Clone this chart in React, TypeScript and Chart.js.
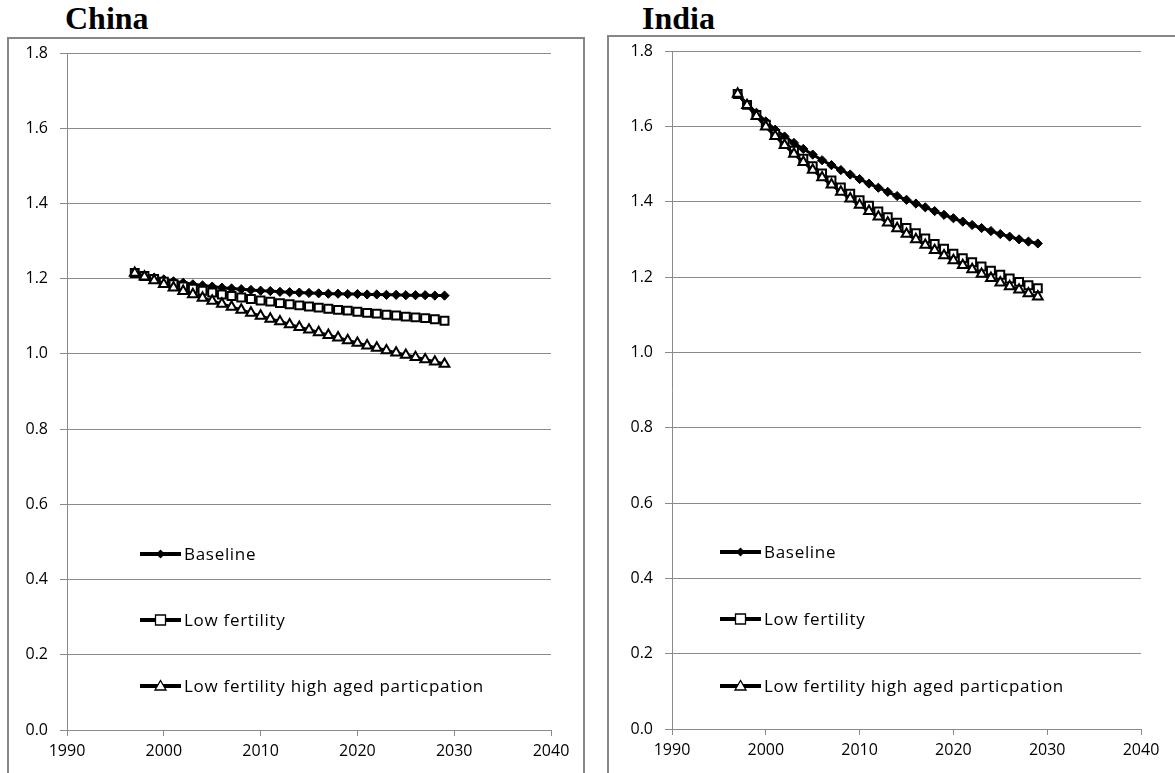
import React, { useEffect, useRef } from 'react';
import { Chart, registerables } from 'chart.js';

Chart.register(...registerables);

// ---------- data ----------
const years = [
  1997, 1998, 1999, 2000, 2001, 2002, 2003, 2004, 2005, 2006,
  2007, 2008, 2009, 2010, 2011, 2012, 2013, 2014, 2015, 2016,
  2017, 2018, 2019, 2020, 2021, 2022, 2023, 2024, 2025, 2026,
  2027, 2028, 2029,
];

const chinaBaseline = [
  1.215, 1.209, 1.203, 1.198, 1.193, 1.189, 1.185, 1.182, 1.179, 1.176,
  1.174, 1.172, 1.170, 1.168, 1.167, 1.165, 1.164, 1.163, 1.162, 1.161,
  1.160, 1.160, 1.159, 1.159, 1.158, 1.158, 1.157, 1.157, 1.156, 1.156,
  1.156, 1.155, 1.155,
];
const chinaLowFertility = [
  1.215, 1.207, 1.199, 1.192, 1.185, 1.179, 1.173, 1.168, 1.163, 1.158,
  1.154, 1.150, 1.146, 1.142, 1.139, 1.135, 1.132, 1.129, 1.126, 1.123,
  1.120, 1.117, 1.115, 1.112, 1.109, 1.107, 1.104, 1.102, 1.099, 1.097,
  1.095, 1.092, 1.088,
];
const chinaLowFertilityHighAged = [
  1.215, 1.205, 1.195, 1.185, 1.176, 1.167, 1.158, 1.149, 1.141, 1.133,
  1.125, 1.117, 1.109, 1.101, 1.093, 1.086, 1.078, 1.071, 1.064, 1.057,
  1.050, 1.043, 1.036, 1.029, 1.022, 1.016, 1.009, 1.003, 0.997, 0.991,
  0.985, 0.979, 0.973,
];

const indiaBaseline = [
  1.686, 1.660, 1.636, 1.613, 1.591, 1.573, 1.556, 1.540, 1.525, 1.510,
  1.497, 1.484, 1.472, 1.460, 1.448, 1.437, 1.426, 1.415, 1.405, 1.395,
  1.385, 1.375, 1.365, 1.356, 1.347, 1.338, 1.330, 1.322, 1.314, 1.307,
  1.300, 1.294, 1.289,
];
const indiaLowFertility = [
  1.686, 1.657, 1.630, 1.604, 1.580, 1.557, 1.535, 1.514, 1.494, 1.475,
  1.456, 1.438, 1.421, 1.404, 1.389, 1.374, 1.359, 1.344, 1.330, 1.316,
  1.302, 1.288, 1.275, 1.262, 1.250, 1.239, 1.228, 1.217, 1.206, 1.196,
  1.187, 1.178, 1.170,
];
const indiaLowFertilityHighAged = [
  1.686, 1.656, 1.627, 1.599, 1.574, 1.550, 1.527, 1.505, 1.484, 1.464,
  1.445, 1.426, 1.408, 1.391, 1.375, 1.360, 1.344, 1.329, 1.314, 1.300,
  1.285, 1.271, 1.257, 1.244, 1.231, 1.220, 1.208, 1.197, 1.185, 1.175,
  1.166, 1.156, 1.148,
];

const seriesLabels = ['Baseline', 'Low fertility', 'Low fertility high aged particpation'];
const xTickValues = [1990, 2000, 2010, 2020, 2030, 2040];
const yTickValues = [0, 0.2, 0.4, 0.6, 0.8, 1.0, 1.2, 1.4, 1.6, 1.8];
const panelTitles = ['China', 'India'];

// ---------- styles ----------
const seriesStyles = [
  { pointStyle: 'rectRot', radius: 4.6, fill: '#000000', borderWidth: 1 },
  { pointStyle: 'rect', radius: 5.6, fill: '#ffffff', borderWidth: 2 },
  { pointStyle: 'triangle', radius: 5.6, fill: '#ffffff', borderWidth: 2 },
];

const GRID = '#8a8a8a';
const FONT_FAMILY = "'Open Sans', 'Liberation Sans', sans-serif";

const legendPlugin = {
  id: 'customLegend',
  afterDraw(chart: any, _args: any, opts: any) {
    const { ctx, chartArea } = chart;
    const x0 = chartArea.left + opts.offsetX;
    ctx.save();
    chart.data.datasets.forEach((ds: any, i: number) => {
      const y = chartArea.bottom - opts.rowsFromBottom[i];
      ctx.strokeStyle = '#000';
      ctx.lineWidth = 4;
      ctx.beginPath();
      ctx.moveTo(x0, y);
      ctx.lineTo(x0 + 41, y);
      ctx.stroke();
      const cx = x0 + 20.5;
      ctx.lineWidth = 1.3;
      ctx.beginPath();
      if (i === 0) {
        ctx.moveTo(cx - 4.5, y);
        ctx.lineTo(cx, y - 4.5);
        ctx.lineTo(cx + 4.5, y);
        ctx.lineTo(cx, y + 4.5);
        ctx.closePath();
        ctx.fillStyle = '#000';
        ctx.fill();
      } else if (i === 1) {
        ctx.rect(cx - 5, y - 5, 10, 10);
        ctx.fillStyle = '#fff';
        ctx.fill();
        ctx.stroke();
      } else {
        ctx.moveTo(cx, y - 5.5);
        ctx.lineTo(cx + 5.5, y + 4);
        ctx.lineTo(cx - 5.5, y + 4);
        ctx.closePath();
        ctx.fillStyle = '#fff';
        ctx.fill();
        ctx.stroke();
      }
      ctx.fillStyle = '#000';
      ctx.font = `17px ${FONT_FAMILY}`;
      try {
        (ctx as any).letterSpacing = '0.7px';
      } catch (e) {
        /* ignore */
      }
      ctx.textAlign = 'left';
      ctx.textBaseline = 'middle';
      ctx.fillText(ds.label, x0 + 44, y + 1);
      try {
        (ctx as any).letterSpacing = '0px';
      } catch (e) {
        /* ignore */
      }
    });
    ctx.restore();
  },
};

type PanelLayout = {
  width: number;
  height: number;
  yAxisWidth: number;
  xAxisHeight: number;
  padTop: number;
  padRight: number;
  legendOffsetX: number;
  legendRows: number[];
};

function PanelChart({ series, layout }: { series: number[][]; layout: PanelLayout }) {
  const ref = useRef<HTMLCanvasElement | null>(null);
  useEffect(() => {
    if (!ref.current) return;
    const chart = new Chart(ref.current, {
      type: 'line',
      data: {
        datasets: series.map((vals, i) => ({
          label: seriesLabels[i],
          data: years.map((yr, j) => ({ x: yr, y: vals[j] })),
          borderColor: '#000000',
          borderWidth: 3,
          pointStyle: seriesStyles[i].pointStyle as any,
          pointRadius: seriesStyles[i].radius,
          pointBackgroundColor: seriesStyles[i].fill,
          pointBorderColor: '#000000',
          pointBorderWidth: seriesStyles[i].borderWidth,
          tension: 0,
          order: 2 - i,
        })),
      },
      options: {
        responsive: false,
        animation: false,
        devicePixelRatio: 1,
        layout: { padding: { top: layout.padTop, right: layout.padRight, left: 0, bottom: 0 } },
        plugins: {
          legend: { display: false },
          tooltip: { enabled: false },
          customLegend: { offsetX: layout.legendOffsetX, rowsFromBottom: layout.legendRows },
        } as any,
        scales: {
          x: {
            type: 'linear',
            min: 1990,
            max: 2040,
            afterBuildTicks: (s: any) => {
              s.ticks = xTickValues.map((v) => ({ value: v }));
            },
            afterFit: (s: any) => {
              s.height = layout.xAxisHeight;
              s.paddingLeft = 0;
              s.paddingRight = 0;
            },
            grid: { drawOnChartArea: false, color: GRID, tickLength: 6, lineWidth: 1 },
            border: { display: true, color: GRID, width: 1 },
            ticks: {
              color: '#000',
              font: { family: FONT_FAMILY, size: 16 },
              padding: 6,
              maxRotation: 0,
              autoSkip: false,
              callback: (v: any) => String(v),
            },
          },
          y: {
            type: 'linear',
            min: 0,
            max: 1.8,
            afterBuildTicks: (s: any) => {
              s.ticks = yTickValues.map((v) => ({ value: v }));
            },
            afterFit: (s: any) => {
              s.width = layout.yAxisWidth;
              s.paddingTop = 0;
              s.paddingBottom = 0;
            },
            grid: { color: GRID, tickLength: 7, lineWidth: 1 },
            border: { display: true, color: GRID, width: 1 },
            ticks: {
              color: '#000',
              font: { family: FONT_FAMILY, size: 16 },
              padding: 12,
              autoSkip: false,
              callback: (v: any) => Number(v).toFixed(1),
            },
          },
        },
      },
      plugins: [legendPlugin],
    });
    return () => chart.destroy();
  }, []);
  return (
    <canvas
      ref={ref}
      width={layout.width}
      height={layout.height}
      style={{ width: layout.width, height: layout.height, display: 'block' }}
    />
  );
}

const chinaLayout: PanelLayout = {
  width: 572,
  height: 733,
  yAxisWidth: 57,
  xAxisHeight: 43,
  padTop: 13,
  padRight: 31,
  legendOffsetX: 73,
  legendRows: [176, 110, 44],
};

const indiaLayout: PanelLayout = {
  width: 565,
  height: 735,
  yAxisWidth: 62,
  xAxisHeight: 44,
  padTop: 13,
  padRight: 34,
  legendOffsetX: 48,
  legendRows: [177, 110, 43],
};

const titleStyle: React.CSSProperties = {
  position: 'absolute',
  top: 2,
  fontFamily: "'Liberation Serif', 'Times New Roman', serif",
  fontWeight: 'bold',
  fontSize: 32,
  lineHeight: '32px',
  color: '#000',
  whiteSpace: 'nowrap',
};

export default function App() {
  return (
    <div
      style={{
        position: 'absolute',
        left: 0,
        top: 0,
        width: 1175,
        height: 773,
        overflow: 'hidden',
        background: '#fff',
      }}
    >
      <div style={{ ...titleStyle, left: 65 }}>{panelTitles[0]}</div>
      <div style={{ ...titleStyle, left: 642 }}>{panelTitles[1]}</div>
      <div
        style={{
          position: 'absolute',
          left: 7,
          top: 37,
          width: 574,
          height: 800,
          border: '2px solid #878787',
        }}
      />
      <div
        style={{
          position: 'absolute',
          left: 607,
          top: 35,
          width: 700,
          height: 800,
          border: '2px solid #878787',
        }}
      />
      <div style={{ position: 'absolute', left: 10, top: 40 }}>
        <PanelChart
          series={[chinaBaseline, chinaLowFertility, chinaLowFertilityHighAged]}
          layout={chinaLayout}
        />
      </div>
      <div style={{ position: 'absolute', left: 610, top: 38 }}>
        <PanelChart
          series={[indiaBaseline, indiaLowFertility, indiaLowFertilityHighAged]}
          layout={indiaLayout}
        />
      </div>
    </div>
  );
}
